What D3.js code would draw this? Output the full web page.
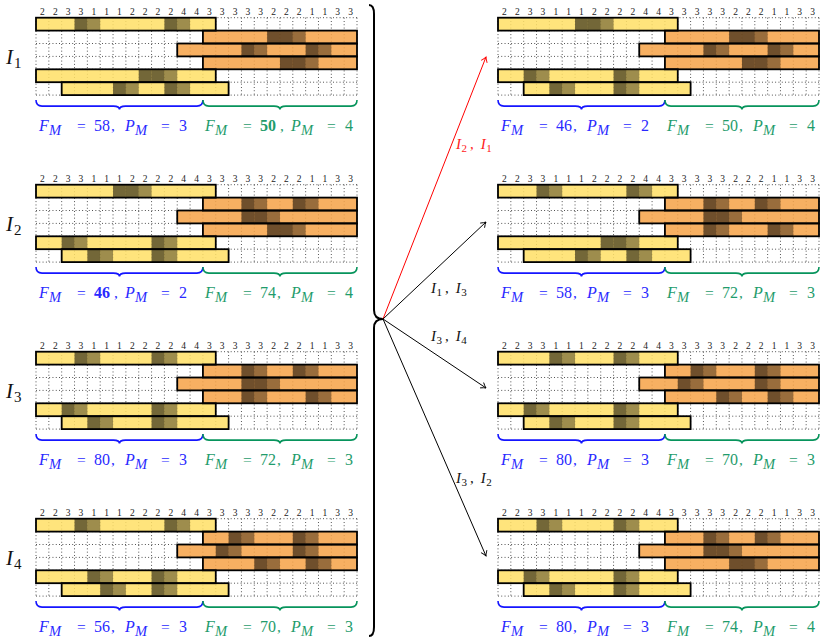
<!DOCTYPE html>
<html lang="en">
<head>
<meta charset="UTF-8">
<title>Crossover schedules</title>
<script src="https://cdn.jsdelivr.net/npm/d3@7"></script>
<style>
  body { margin: 0; background: #fff; }
</style>
</head>
<body>
<script>
// numbers above the columns
const colLabels = [2, 2, 3, 3, 1, 1, 1, 2, 2, 2, 2, 4, 4, 3, 3, 3, 3, 3, 2, 2, 2, 1, 1, 3, 3];

// the six bars of every schedule: first column, last column (exclusive), kind
const barStart = [0, 13, 11, 13, 0, 2];
const barEnd = [14, 25, 25, 25, 14, 15];
const barKind = ['y', 'o', 'o', 'o', 'y', 'y'];

// shaded cells per row: dark ones and medium ones
const darkI1 = [[3, 10], [18, 19], [16, 21], [19, 20], [8, 9], [6, 10]];
const medI1 = [[4, 11], [20], [17, 22], [21], [10], [7, 11]];
const darkI2 = [[6, 7], [16, 20], [16, 17], [18, 19], [2, 9], [4, 9]];
const medI2 = [[8], [17, 21], [18], [20], [3, 10], [5, 10]];
const darkI3 = [[3, 9], [16, 20], [16, 17], [16, 21], [2, 9], [4, 9]];
const medI3 = [[4, 10], [17, 21], [18], [17, 22], [3, 10], [5, 10]];
const darkI4 = [[3, 10], [15, 20], [14, 20], [17, 21], [4, 9], [5, 9]];
const medI4 = [[4, 11], [16, 21], [15, 21], [18, 22], [5, 10], [6, 10]];

const darkR1 = [[6, 7], [18, 19], [16, 21], [19, 20], [2, 9], [4, 9]];
const medR1 = [[8], [20], [17, 22], [21], [3, 10], [5, 10]];
const darkR2 = [[3, 10], [16, 20], [16, 17], [16, 21], [8, 9], [6, 10]];
const medR2 = [[4, 11], [17, 21], [18], [17, 22], [10], [7, 11]];
const darkR3 = [[4, 9], [15, 20], [14, 20], [17, 21], [2, 9], [4, 9]];
const medR3 = [[5, 10], [16, 21], [15, 21], [18, 22], [3, 10], [5, 10]];
const darkR4 = [[3, 9], [16, 20], [16, 17], [18, 19], [2, 9], [4, 9]];
const medR4 = [[4, 10], [17, 21], [18], [20], [3, 10], [5, 10]];

// F_M / P_M labels (blue = left part, green = right part)
const fmBlueL = [58, 46, 80, 56];
const pmBlueL = [3, 2, 3, 3];
const fmGreenL = [50, 74, 72, 70];
const pmGreenL = [4, 4, 3, 3];
const fmBlueR = [46, 58, 80, 80];
const pmBlueR = [2, 3, 3, 3];
const fmGreenR = [50, 72, 70, 74];
const pmGreenR = [4, 3, 3, 4];

const names = ['1', '2', '3', '4'];
const arrowPairs = [['2', '1'], ['1', '3'], ['3', '4'], ['3', '2']];

const W = 820, H = 641;
const cw = 12.84, ch = 12.9;
const top0 = 17.7, step = 167;
const leftX = 36, rightX = 498;

const fills = { y: '#ffdf66', o: '#f6a348' };
const blue = '#1515ff', blueText = '#2a2aff';
const green = '#07945c', greenText = '#1f9c6c';

const svg = d3.select('body').append('svg')
    .attr('width', W)
    .attr('height', H);

const defs = svg.append('defs');
['black', 'red'].forEach(c => {
    defs.append('marker')
        .attr('id', 'arrow-' + c)
        .attr('viewBox', '-6 -4 8 8')
        .attr('refX', 0).attr('refY', 0)
        .attr('markerWidth', 8).attr('markerHeight', 8)
        .attr('markerUnits', 'userSpaceOnUse')
        .attr('orient', 'auto')
        .append('path')
        .attr('d', 'M-5,-3.2 Q-2,-0.8 0,0 Q-2,0.8 -5,3.2')
        .attr('fill', 'none')
        .attr('stroke', c === 'red' ? '#ff0000' : '#000')
        .attr('stroke-width', 0.9);
});

function hBrace(x1, x2, y) {
    const xm = (x1 + x2) / 2;
    return `M${x1},${y} Q${x1},${y + 6} ${x1 + 6},${y + 6} L${xm - 6},${y + 6} Q${xm},${y + 6} ${xm},${y + 9.5}` +
        ` Q${xm},${y + 6} ${xm + 6},${y + 6} L${x2 - 6},${y + 6} Q${x2},${y + 6} ${x2},${y}`;
}

function fmLabel(g, x, y, fm, pm, color, bold) {
    const t = (dx, dy, s, size, italic, b) => g.append('text')
        .attr('x', x + dx).attr('y', y + dy)
        .attr('fill', color)
        .style('font-family', 'Liberation Serif, serif')
        .style('font-size', size + 'px')
        .style('font-style', italic ? 'italic' : 'normal')
        .style('font-weight', b ? 'bold' : 'normal')
        .text(s);
    t(0, 0, 'F', 16, true);
    t(10, 4.5, 'M', 14.5, true);
    t(38, 0, '=', 15.5);
    t(55, 0, fm, 16, false, bold);
    t(bold ? 75 : 72, 0, ',', 15.5);
    t(86, 0, 'P', 16, true);
    t(96, 4.5, 'M', 14.5, true);
    t(122, 0, '=', 15.5);
    t(140, 0, pm, 16);
}

function drawPanel(x0, top, dark, med, lab) {
    const x = d3.scaleLinear().domain([0, 25]).range([x0, x0 + 25 * cw]);
    const y = d3.scaleLinear().domain([0, 6]).range([top, top + 6 * ch]);
    const g = svg.append('g');

    // column numbers
    g.selectAll('.cl').data(colLabels).enter().append('text')
        .attr('x', (d, i) => x(i + 0.5))
        .attr('y', top - 2.6)
        .attr('text-anchor', 'middle')
        .style('font-family', 'Liberation Serif, serif')
        .style('font-size', '9.5px')
        .attr('fill', '#222')
        .text(d => d);

    // dotted grid
    const grid = g.append('g')
        .attr('stroke', '#000')
        .attr('stroke-width', 0.75)
        .attr('stroke-dasharray', '0.9,2.4');
    grid.selectAll('.v').data(d3.range(26)).enter().append('line')
        .attr('x1', d => x(d)).attr('x2', d => x(d))
        .attr('y1', y(0)).attr('y2', y(6));
    grid.selectAll('.h').data(d3.range(7)).enter().append('line')
        .attr('x1', x(0)).attr('x2', x(25))
        .attr('y1', d => y(d)).attr('y2', d => y(d));

    // bar fills
    const rows = d3.range(6);
    g.selectAll('.bf').data(rows).enter().append('rect')
        .attr('x', r => x(barStart[r]))
        .attr('y', r => y(r))
        .attr('width', r => x(barEnd[r]) - x(barStart[r]))
        .attr('height', ch)
        .attr('fill', r => fills[barKind[r]])
        .attr('fill-opacity', 0.86);

    // shaded cells
    rows.forEach(r => {
        dark[r].forEach(c => g.append('rect')
            .attr('x', x(c)).attr('y', y(r))
            .attr('width', cw).attr('height', ch)
            .attr('fill', '#000').attr('fill-opacity', 0.55));
        med[r].forEach(c => g.append('rect')
            .attr('x', x(c)).attr('y', y(r))
            .attr('width', cw).attr('height', ch)
            .attr('fill', '#000').attr('fill-opacity', 0.38));
    });

    // bar outlines
    g.selectAll('.bo').data(rows).enter().append('rect')
        .attr('x', r => x(barStart[r]))
        .attr('y', r => y(r))
        .attr('width', r => x(barEnd[r]) - x(barStart[r]))
        .attr('height', ch)
        .attr('fill', 'none')
        .attr('stroke', '#000')
        .attr('stroke-width', 1.8);

    // braces and labels
    const by = y(6) + 5;
    g.append('path').attr('d', hBrace(x(0), x(13), by))
        .attr('fill', 'none').attr('stroke', blue).attr('stroke-width', 1.6);
    g.append('path').attr('d', hBrace(x(13), x(25), by))
        .attr('fill', 'none').attr('stroke', green).attr('stroke-width', 1.6);

    fmLabel(g, x0 + 3, top + 113, lab.fb, lab.pb, blueText, lab.boldB);
    fmLabel(g, x0 + 169, top + 113, lab.fg, lab.pg, greenText, lab.boldG);
}

const darkL = [darkI1, darkI2, darkI3, darkI4];
const medL = [medI1, medI2, medI3, medI4];
const darkR = [darkR1, darkR2, darkR3, darkR4];
const medR = [medR1, medR2, medR3, medR4];

names.forEach((n, k) => {
    const top = top0 + step * k;
    drawPanel(leftX, top, darkL[k], medL[k], {
        fb: fmBlueL[k], pb: pmBlueL[k], fg: fmGreenL[k], pg: pmGreenL[k],
        boldB: k === 1, boldG: k === 0
    });
    drawPanel(rightX, top, darkR[k], medR[k], {
        fb: fmBlueR[k], pb: pmBlueR[k], fg: fmGreenR[k], pg: pmGreenR[k]
    });

    // I_k name
    const nm = svg.append('text')
        .attr('x', 6).attr('y', top + 46)
        .style('font-family', 'Liberation Serif, serif')
        .style('font-size', '21px')
        .attr('fill', '#111');
    nm.append('tspan').style('font-style', 'italic').text('I');
    nm.append('tspan').attr('dy', 4).attr('dx', 1).style('font-size', '15px').text(n);
});

// big right brace
svg.append('path')
    .attr('d', 'M369,5 Q374,5 374,14 L374,310 Q374,319 383,319 Q374,319 374,328 L374,627 Q374,636 369,636')
    .attr('fill', 'none')
    .attr('stroke', '#000')
    .attr('stroke-width', 2);

// arrows from the brace tip to the children
const arrowEnds = [57, 222, 388, 556];
const labelPos = [[456, 149], [431, 293], [431, 341], [456, 483]];
arrowPairs.forEach((p, i) => {
    const c = i === 0 ? '#ff0000' : '#000';
    svg.append('line')
        .attr('x1', 383).attr('y1', 319)
        .attr('x2', 486).attr('y2', arrowEnds[i])
        .attr('stroke', c)
        .attr('stroke-width', 1)
        .attr('marker-end', `url(#arrow-${i === 0 ? 'red' : 'black'})`);

    const t = svg.append('text')
        .attr('x', labelPos[i][0]).attr('y', labelPos[i][1])
        .attr('fill', i === 0 ? '#ff1a1a' : '#111')
        .style('font-family', 'Liberation Serif, serif')
        .style('font-size', '15px');
    t.append('tspan').style('font-style', 'italic').text('I');
    t.append('tspan').attr('dy', 3).attr('dx', 0.5).style('font-size', '11px').text(p[0]);
    t.append('tspan').attr('dy', -3).attr('dx', 3).text(',');
    t.append('tspan').attr('dx', 7).style('font-style', 'italic').text('I');
    t.append('tspan').attr('dy', 3).attr('dx', 0.5).style('font-size', '11px').text(p[1]);
});
</script>
</body>
</html>
